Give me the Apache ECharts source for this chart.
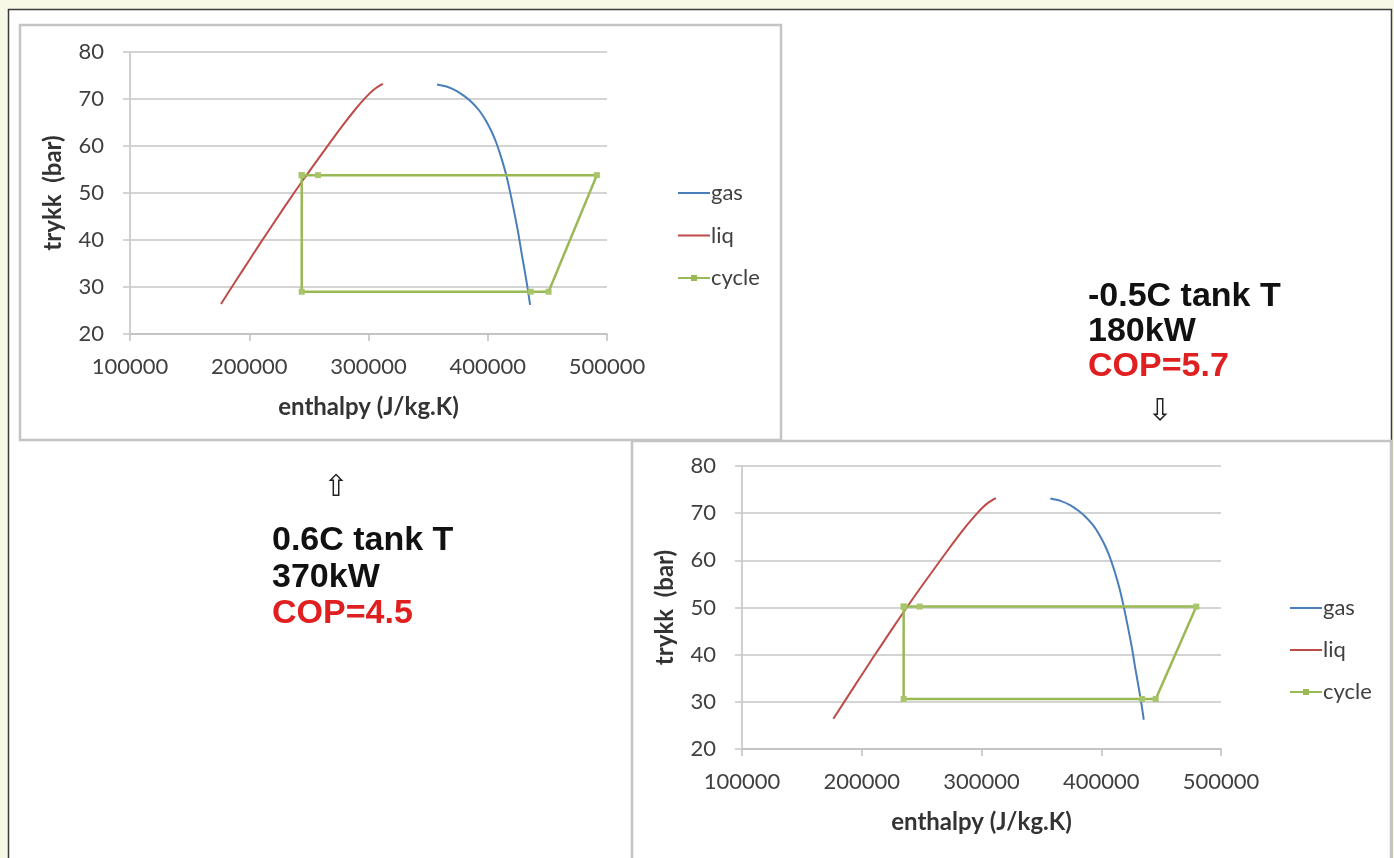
<!DOCTYPE html>
<html>
<head>
<meta charset="utf-8">
<script src="https://cdn.jsdelivr.net/npm/echarts@6/dist/echarts.min.js"></script>
<style>
html,body{margin:0;padding:0;background:#f8f8e6;}
#chart{width:1394px;height:858px;}
</style>
</head>
<body>
<div id="chart"></div>
<script>
// Saturation curves of CO2 (enthalpy J/kg, pressure bar)
var gasH = [357500, 366000, 374000, 381000, 387000, 393000, 398000, 403000, 407000, 411000, 415000, 418500, 422000, 425500, 428500, 431300, 433700, 435500];
var gasP = [73.1, 72.6, 71.7, 70.5, 69.2, 67.5, 65.6, 63.2, 60.8, 57.8, 54.3, 50.5, 46.2, 41.6, 37.0, 33.0, 29.3, 26.2];
var liqH = [176300, 190000, 200000, 210000, 220000, 230000, 240000, 250000, 260000, 270000, 280000, 288000, 295000, 301000, 306000, 312000];
var liqP = [26.4, 31.8, 35.7, 39.6, 43.4, 47.2, 50.9, 54.5, 58.0, 61.5, 64.9, 67.5, 69.6, 71.2, 72.3, 73.2];
// Cycle, 0.6C tank T (upper chart)
var cycleAH = [244000, 244000, 436000, 451000, 491500, 257700, 244000];
var cycleAP = [53.8, 29.0, 29.0, 29.0, 53.8, 53.8, 53.8];
// Cycle, -0.5C tank T (lower chart)
var cycleBH = [235000, 235000, 434000, 445500, 479400, 248300, 235000];
var cycleBP = [50.2, 30.6, 30.6, 30.6, 50.2, 50.2, 50.2];
var seriesNames = ['gas', 'liq', 'cycle'];
var xTitle = 'enthalpy (J/kg.K)';
var yTitle = 'trykk  (bar)';
var notesA = ['0.6C tank T', '370kW', 'COP=4.5'];
var notesB = ['-0.5C tank T', '180kW', 'COP=5.7'];

function pairs(h, p) { return h.map(function (v, i) { return [v, p[i]]; }); }

var colors = { gas: '#4a7ebb', liq: '#be4b48', cycle: '#98b954' };
var tickFont = { color: '#404040', fontSize: 22, fontFamily: 'Lato' };

function xAxisCfg(gi) {
  return {
    type: 'value', gridIndex: gi, min: 100000, max: 500000, interval: 100000,
    name: xTitle, nameLocation: 'middle', nameGap: 61,
    nameTextStyle: { color: '#333', fontSize: 24, fontWeight: 'bold', fontFamily: 'Lato' },
    axisLine: { show: true, lineStyle: { color: '#bfbfbf', width: 1.5 } },
    axisTick: { show: true, length: 7, lineStyle: { color: '#bfbfbf', width: 1.5 } },
    axisLabel: Object.assign({ margin: 22, formatter: function (v) { return String(v); } }, tickFont),
    splitLine: { show: false }
  };
}
function yAxisCfg(gi) {
  return {
    type: 'value', gridIndex: gi, min: 20, max: 80, interval: 10,
    name: yTitle, nameLocation: 'middle', nameGap: 65, nameRotate: 90,
    nameTextStyle: { color: '#333', fontSize: 24, fontWeight: 'bold', fontFamily: 'Lato' },
    axisLine: { show: true, lineStyle: { color: '#bfbfbf', width: 1.5 } },
    axisTick: { show: true, length: 7, lineStyle: { color: '#d4d4d4', width: 2 } },
    axisLabel: Object.assign({ margin: 26 }, tickFont),
    splitLine: { show: true, lineStyle: { color: '#d4d4d4', width: 2 } }
  };
}
function mkSeries(gi, cH, cP) {
  return [
    { name: 'gas', type: 'line', xAxisIndex: gi, yAxisIndex: gi, data: pairs(gasH, gasP),
      symbol: 'none', smooth: 0.3, lineStyle: { color: colors.gas, width: 2 }, itemStyle: { color: colors.gas } },
    { name: 'liq', type: 'line', xAxisIndex: gi, yAxisIndex: gi, data: pairs(liqH, liqP),
      symbol: 'none', smooth: 0.3, lineStyle: { color: colors.liq, width: 2 }, itemStyle: { color: colors.liq } },
    { name: 'cycle', type: 'line', xAxisIndex: gi, yAxisIndex: gi, data: pairs(cH, cP),
      symbol: 'rect', symbolSize: 6, lineStyle: { color: colors.cycle, width: 2.5 }, itemStyle: { color: '#a9c56c' } }
  ];
}
var lineIcon = 'path://M0,4 L32,4 L32,6 L0,6 Z';
var markIcon = 'path://M0,4 L13,4 L13,2 L19,2 L19,4 L32,4 L32,6 L19,6 L19,8 L13,8 L13,6 L0,6 Z';
function legendCfg(left, top, w, gap) {
  return {
    data: [
      { name: 'gas', icon: lineIcon, itemStyle: { color: colors.gas } },
      { name: 'liq', icon: lineIcon, itemStyle: { color: colors.liq } },
      { name: 'cycle', icon: markIcon, itemStyle: { color: colors.cycle } }
    ],
    orient: 'vertical', left: left, top: top,
    itemWidth: w, itemHeight: 10, itemGap: gap,
    textStyle: { color: '#404040', fontSize: 22, fontFamily: 'Lato', lineHeight: 21, padding: [0, 0, 0, -4] }
  };
}
function noteTexts(lines, x, y0, dy) {
  return lines.map(function (t, i) {
    return { type: 'text', z: 20, x: x, y: y0 + i * dy,
      style: { text: t, font: 'bold 34px "Liberation Sans", Arial, sans-serif',
        fill: i === 2 ? '#e02020' : '#111', textVerticalAlign: 'middle' } };
  });
}

var chart = echarts.init(document.getElementById('chart'), null, { renderer: 'canvas' });
var option = {
  backgroundColor: 'transparent',
  animation: false,
  grid: [
    { left: 130, top: 52, width: 477, height: 282 },
    { left: 742, top: 466, width: 479, height: 283 }
  ],
  xAxis: [xAxisCfg(0), xAxisCfg(1)],
  yAxis: [yAxisCfg(0), yAxisCfg(1)],
  legend: [legendCfg(673, 177, 32, 20.5), legendCfg(1285, 592, 32, 20)],
  series: mkSeries(0, cycleAH, cycleAP).concat(mkSeries(1, cycleBH, cycleBP)),
  graphic: [
    { type: 'rect', z: -10, shape: { x: 8.5, y: 9.5, width: 1383, height: 870 },
      style: { fill: '#ffffff', stroke: '#3a3a3a', lineWidth: 1.5 } },
    { type: 'rect', z: -9, shape: { x: 20, y: 25, width: 761, height: 415 },
      style: { fill: '#ffffff', stroke: '#c4c4c4', lineWidth: 2.5 } },
    { type: 'rect', z: -9, shape: { x: 632, y: 441, width: 759, height: 430 },
      style: { fill: '#ffffff', stroke: '#c4c4c4', lineWidth: 2.5 } },
    { type: 'text', z: 20, x: 336, y: 488,
      style: { text: '\u21E7', font: '30px "DejaVu Sans"', fill: '#222', textAlign: 'center', textVerticalAlign: 'middle' } },
    { type: 'text', z: 20, x: 1160, y: 412,
      style: { text: '\u21E9', font: '30px "DejaVu Sans"', fill: '#222', textAlign: 'center', textVerticalAlign: 'middle' } }
  ].concat(noteTexts(notesA, 272, 541, 36.5)).concat(noteTexts(notesB, 1088, 297, 35))
};
chart.setOption(option);
</script>
</body>
</html>
